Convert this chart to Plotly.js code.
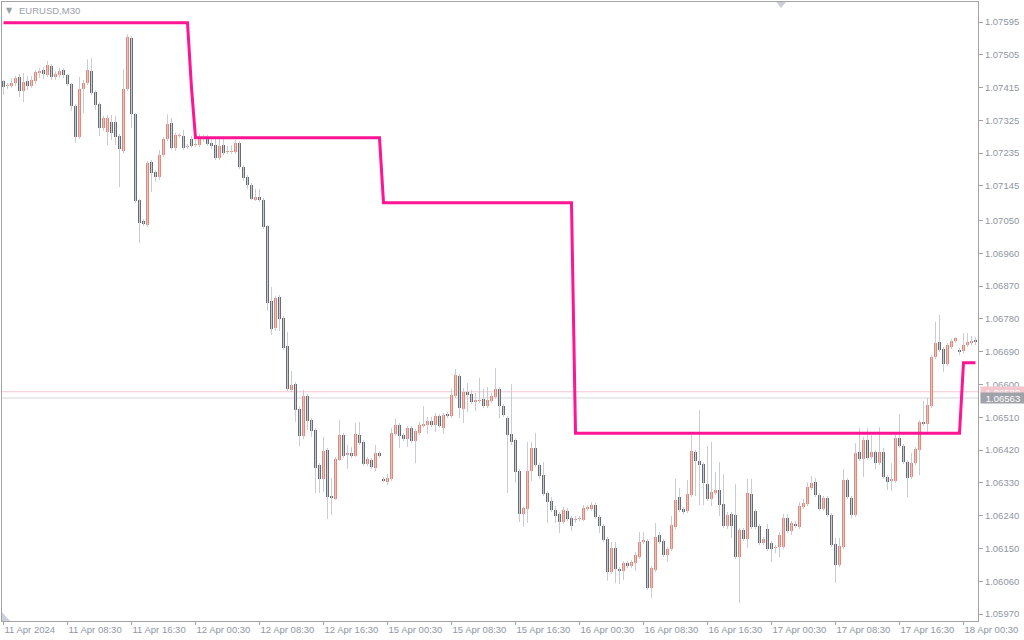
<!DOCTYPE html>
<html>
<head>
<meta charset="utf-8">
<script src="https://cdn.plot.ly/plotly-3.0.1.min.js"></script>
<style>
  html, body { margin: 0; padding: 0; background: #ffffff; }
  #chart { width: 1024px; height: 640px; }
</style>
</head>
<body>
<div id="chart"></div>
<script>
// EURUSD M30 candles, bar index 0 = 11 Apr 2024 00:30
const open = [
  1.07433,1.07419,1.07419,1.07428,1.07444,1.07406,1.07433,1.07419,1.07433,1.07455,
  1.07463,1.07450,1.07474,1.07444,1.07450,1.07463,1.07450,1.07425,1.07364,1.07279,
  1.07411,1.07428,1.07460,1.07403,1.07370,1.07304,1.07293,1.07321,1.07321,1.07282,
  1.07241,1.07411,1.07551,1.07342,1.07106,1.07049,1.07038,1.07211,1.07183,1.07170,
  1.07230,1.07274,1.07318,1.07249,1.07282,1.07282,1.07252,1.07274,1.07257,1.07257,
  1.07279,1.07277,1.07263,1.07257,1.07222,1.07257,1.07238,1.07238,1.07238,1.07263,
  1.07197,1.07170,1.07148,1.07106,1.07115,1.07106,1.07035,1.06829,1.06755,1.06840,
  1.06782,1.06706,1.06585,1.06601,1.06533,1.06459,1.06568,1.06502,1.06475,1.06379,
  1.06341,1.06420,1.06294,1.06286,1.06393,1.06461,1.06406,1.06412,1.06404,1.06461,
  1.06442,1.06382,1.06393,1.06371,1.06412,1.06341,1.06332,1.06341,1.06464,1.06489,
  1.06461,1.06450,1.06481,1.06445,1.06467,1.06486,1.06489,1.06500,1.06489,1.06513,
  1.06481,1.06519,1.06513,1.06568,1.06623,1.06533,1.06579,1.06574,1.06552,1.06555,
  1.06560,1.06541,1.06555,1.06566,1.06588,1.06541,1.06508,1.06464,1.06448,1.06362,
  1.06244,1.06258,1.06362,1.06426,1.06379,1.06351,1.06302,1.06280,1.06255,1.06244,
  1.06222,1.06253,1.06233,1.06228,1.06231,1.06228,1.06258,1.06258,1.06269,1.06236,
  1.06212,1.06176,1.06085,1.06151,1.06093,1.06088,1.06110,1.06102,1.06110,1.06126,
  1.06168,1.06170,1.06041,1.06091,1.06187,1.06170,1.06132,1.06148,1.06209,1.06291,
  1.06258,1.06253,1.06297,1.06415,1.06390,1.06382,1.06327,1.06286,1.06302,1.06310,
  1.06272,1.06212,1.06244,1.06242,1.06126,1.06201,1.06176,1.06299,1.06253,1.06212,
  1.06165,1.06203,1.06165,1.06151,1.06154,1.06154,1.06233,1.06198,1.06217,1.06209,
  1.06264,1.06272,1.06316,1.06332,1.06297,1.06258,1.06288,1.06242,1.06162,1.06104,
  1.06154,1.06338,1.06288,1.06242,1.06415,1.06395,1.06448,1.06401,1.06415,1.06384,
  1.06415,1.06346,1.06335,1.06335,1.06453,1.06431,1.06387,1.06346,1.06384,1.06420,
  1.06497,1.06492,1.06541,1.06675,1.06717,1.06697,1.06656,1.06703,1.06719,1.06695,
  1.06692,1.06708,1.06714,1.06722
];
const high = [
  1.07436,1.07428,1.07441,1.07447,1.07452,1.07455,1.07447,1.07447,1.07463,1.07469,
  1.07471,1.07488,1.07480,1.07460,1.07469,1.07469,1.07452,1.07428,1.07370,1.07444,
  1.07436,1.07493,1.07496,1.07408,1.07375,1.07337,1.07340,1.07340,1.07337,1.07288,
  1.07466,1.07562,1.07557,1.07345,1.07109,1.07054,1.07213,1.07216,1.07189,1.07244,
  1.07279,1.07342,1.07331,1.07290,1.07290,1.07299,1.07260,1.07282,1.07271,1.07288,
  1.07285,1.07285,1.07277,1.07274,1.07274,1.07274,1.07255,1.07257,1.07271,1.07268,
  1.07202,1.07175,1.07153,1.07137,1.07137,1.07112,1.07038,1.06868,1.06843,1.06846,
  1.06788,1.06744,1.06637,1.06607,1.06538,1.06585,1.06574,1.06508,1.06481,1.06384,
  1.06456,1.06426,1.06343,1.06401,1.06502,1.06467,1.06434,1.06428,1.06494,1.06497,
  1.06448,1.06401,1.06398,1.06434,1.06417,1.06346,1.06354,1.06481,1.06505,1.06494,
  1.06467,1.06486,1.06486,1.06478,1.06497,1.06541,1.06511,1.06511,1.06522,1.06519,
  1.06522,1.06524,1.06588,1.06642,1.06629,1.06590,1.06604,1.06585,1.06577,1.06618,
  1.06588,1.06593,1.06577,1.06645,1.06593,1.06546,1.06513,1.06601,1.06453,1.06368,
  1.06266,1.06442,1.06442,1.06467,1.06384,1.06387,1.06308,1.06291,1.06266,1.06250,
  1.06264,1.06261,1.06239,1.06239,1.06239,1.06269,1.06269,1.06277,1.06275,1.06242,
  1.06217,1.06181,1.06168,1.06168,1.06099,1.06115,1.06115,1.06118,1.06140,1.06195,
  1.06195,1.06176,1.06102,1.06220,1.06195,1.06176,1.06154,1.06239,1.06341,1.06316,
  1.06264,1.06338,1.06461,1.06420,1.06530,1.06387,1.06431,1.06442,1.06360,1.06387,
  1.06354,1.06250,1.06250,1.06327,1.06206,1.06206,1.06341,1.06341,1.06258,1.06217,
  1.06181,1.06217,1.06170,1.06159,1.06195,1.06244,1.06244,1.06225,1.06225,1.06277,
  1.06286,1.06332,1.06349,1.06343,1.06302,1.06294,1.06294,1.06247,1.06179,1.06179,
  1.06368,1.06343,1.06294,1.06439,1.06481,1.06456,1.06481,1.06461,1.06420,1.06483,
  1.06426,1.06351,1.06384,1.06467,1.06519,1.06437,1.06393,1.06412,1.06428,1.06502,
  1.06555,1.06563,1.06681,1.06772,1.06791,1.06703,1.06714,1.06725,1.06730,1.06700,
  1.06741,1.06741,1.06733,1.06730
];
const low = [
  1.07395,1.07411,1.07414,1.07419,1.07389,1.07375,1.07408,1.07414,1.07425,1.07441,
  1.07439,1.07444,1.07436,1.07436,1.07441,1.07441,1.07419,1.07351,1.07263,1.07274,
  1.07345,1.07422,1.07395,1.07353,1.07282,1.07296,1.07257,1.07271,1.07257,1.07142,
  1.07235,1.07406,1.07304,1.07098,1.06988,1.07035,1.07032,1.07128,1.07156,1.07161,
  1.07224,1.07268,1.07244,1.07241,1.07277,1.07244,1.07246,1.07249,1.07252,1.07252,
  1.07266,1.07255,1.07246,1.07216,1.07216,1.07230,1.07233,1.07233,1.07233,1.07191,
  1.07159,1.07137,1.07106,1.07104,1.07101,1.07027,1.06802,1.06736,1.06747,1.06747,
  1.06695,1.06582,1.06579,1.06497,1.06431,1.06450,1.06475,1.06456,1.06302,1.06302,
  1.06305,1.06231,1.06242,1.06283,1.06390,1.06398,1.06368,1.06398,1.06401,1.06434,
  1.06376,1.06376,1.06368,1.06362,1.06398,1.06332,1.06324,1.06335,1.06459,1.06426,
  1.06445,1.06428,1.06439,1.06384,1.06461,1.06481,1.06464,1.06483,1.06470,1.06481,
  1.06464,1.06508,1.06508,1.06563,1.06508,1.06494,1.06524,1.06546,1.06527,1.06549,
  1.06535,1.06535,1.06549,1.06560,1.06508,1.06511,1.06302,1.06434,1.06330,1.06222,
  1.06209,1.06220,1.06335,1.06373,1.06341,1.06294,1.06220,1.06250,1.06220,1.06192,
  1.06217,1.06225,1.06198,1.06220,1.06225,1.06225,1.06253,1.06253,1.06231,1.06192,
  1.06168,1.06061,1.06080,1.06055,1.06052,1.06063,1.06096,1.06096,1.06088,1.06121,
  1.06162,1.06036,1.06014,1.06085,1.06162,1.06126,1.06113,1.06143,1.06203,1.06250,
  1.06244,1.06247,1.06291,1.06294,1.06269,1.06269,1.06280,1.06266,1.06297,1.06239,
  1.06206,1.06203,1.06179,1.06121,1.06000,1.06170,1.06151,1.06203,1.06203,1.06159,
  1.06159,1.06143,1.06113,1.06137,1.06126,1.06148,1.06192,1.06187,1.06206,1.06203,
  1.06258,1.06266,1.06310,1.06291,1.06253,1.06253,1.06236,1.06154,1.06055,1.06099,
  1.06148,1.06286,1.06233,1.06236,1.06390,1.06346,1.06393,1.06395,1.06368,1.06379,
  1.06341,1.06310,1.06308,1.06330,1.06426,1.06382,1.06291,1.06341,1.06379,1.06351,
  1.06486,1.06470,1.06535,1.06670,1.06689,1.06634,1.06651,1.06697,1.06714,1.06681,
  1.06686,1.06703,1.06708,1.06708
];
const close = [
  1.07417,1.07422,1.07428,1.07441,1.07406,1.07430,1.07419,1.07436,1.07458,1.07460,
  1.07452,1.07477,1.07444,1.07452,1.07460,1.07450,1.07425,1.07364,1.07279,1.07411,
  1.07428,1.07463,1.07400,1.07367,1.07304,1.07331,1.07331,1.07290,1.07279,1.07246,
  1.07411,1.07554,1.07342,1.07104,1.07043,1.07041,1.07208,1.07181,1.07170,1.07230,
  1.07274,1.07315,1.07249,1.07285,1.07285,1.07249,1.07255,1.07255,1.07260,1.07279,
  1.07274,1.07260,1.07255,1.07222,1.07255,1.07235,1.07241,1.07241,1.07263,1.07197,
  1.07167,1.07148,1.07109,1.07115,1.07106,1.07032,1.06824,1.06752,1.06837,1.06780,
  1.06700,1.06588,1.06599,1.06530,1.06459,1.06568,1.06500,1.06472,1.06371,1.06341,
  1.06417,1.06291,1.06288,1.06395,1.06461,1.06404,1.06412,1.06404,1.06464,1.06439,
  1.06382,1.06395,1.06373,1.06412,1.06404,1.06335,1.06343,1.06467,1.06489,1.06459,
  1.06450,1.06481,1.06445,1.06472,1.06489,1.06492,1.06500,1.06489,1.06513,1.06486,
  1.06516,1.06513,1.06571,1.06626,1.06535,1.06579,1.06571,1.06552,1.06557,1.06557,
  1.06541,1.06557,1.06568,1.06588,1.06541,1.06516,1.06461,1.06442,1.06360,1.06244,
  1.06261,1.06362,1.06426,1.06379,1.06349,1.06299,1.06277,1.06255,1.06239,1.06222,
  1.06255,1.06231,1.06212,1.06231,1.06233,1.06261,1.06264,1.06269,1.06236,1.06212,
  1.06173,1.06085,1.06151,1.06093,1.06088,1.06110,1.06102,1.06113,1.06132,1.06168,
  1.06173,1.06041,1.06096,1.06181,1.06168,1.06132,1.06148,1.06214,1.06283,1.06255,
  1.06250,1.06299,1.06417,1.06390,1.06379,1.06330,1.06286,1.06305,1.06310,1.06269,
  1.06212,1.06242,1.06212,1.06126,1.06201,1.06176,1.06302,1.06209,1.06209,1.06165,
  1.06176,1.06148,1.06148,1.06154,1.06187,1.06233,1.06198,1.06220,1.06212,1.06266,
  1.06275,1.06319,1.06330,1.06297,1.06258,1.06288,1.06242,1.06159,1.06104,1.06157,
  1.06338,1.06291,1.06242,1.06412,1.06395,1.06448,1.06398,1.06415,1.06384,1.06415,
  1.06346,1.06332,1.06341,1.06453,1.06431,1.06387,1.06343,1.06384,1.06423,1.06497,
  1.06492,1.06544,1.06675,1.06714,1.06695,1.06656,1.06708,1.06719,1.06728,1.06689,
  1.06708,1.06717,1.06719,1.06717
];

// Daily level line: vertices (bar index, price)
const levelBars   = [0, 46, 47, 48, 94, 95, 142, 143, 239, 240, 243];
const levelPrices = [1.07593, 1.07593, 1.07414, 1.07277, 1.07277, 1.07099, 1.07099, 1.06466, 1.06466, 1.06660, 1.06660];

// Price lines on the right scale
const bidPrice = 1.06563;
const askPrice = 1.06580;

// Time axis labels, one every 16 bars
const timeTickBars = [0, 16, 32, 48, 64, 80, 96, 112, 128, 144, 160, 176, 192, 208, 224, 240];
const timeTickText = [
  "11 Apr 2024", "11 Apr 08:30", "11 Apr 16:30", "12 Apr 00:30", "12 Apr 08:30",
  "12 Apr 16:30", "15 Apr 00:30", "15 Apr 08:30", "15 Apr 16:30", "16 Apr 00:30",
  "16 Apr 08:30", "16 Apr 16:30", "17 Apr 00:30", "17 Apr 08:30", "17 Apr 16:30",
  "18 Apr 00:30"
];

// Price axis labels
const priceTicks = [1.07595, 1.07505, 1.07415, 1.07325, 1.07235, 1.07145, 1.07050, 1.06960,
  1.06870, 1.06780, 1.06690, 1.06600, 1.06510, 1.06420, 1.06330, 1.06240, 1.06150, 1.06060, 1.05970];

const BULL = '#ef8471';
const BEAR = '#676c75';
const WICK = '#c9ccd3';
const TEXT = '#8f96a3';
const FRAME = '#a3a3a3';
const FONT = 'Liberation Sans, Arial, sans-serif';

// wicks: one vertical segment per bar
const wickX = [], wickY = [];
// bodies split by direction
const upX = [], upBase = [], upH = [];
const dnX = [], dnBase = [], dnH = [];
const MIN_BODY = 0.00003;
for (let i = 0; i < open.length; i++) {
  wickX.push(i, i, null);
  wickY.push(low[i], high[i], null);
  const lo = Math.min(open[i], close[i]);
  const h = Math.max(Math.abs(close[i] - open[i]), MIN_BODY);
  if (close[i] >= open[i]) { upX.push(i); upBase.push(lo); upH.push(h); }
  else { dnX.push(i); dnBase.push(lo); dnH.push(h); }
}

const traces = [
  { type: 'scatter', mode: 'lines', x: wickX, y: wickY,
    line: { color: WICK, width: 1 }, hoverinfo: 'skip', showlegend: false },
  { type: 'bar', x: dnX, y: dnH, base: dnBase, width: 0.75,
    marker: { color: BEAR, line: { width: 0 } }, hoverinfo: 'skip', showlegend: false },
  { type: 'bar', x: upX, y: upH, base: upBase, width: 0.75,
    marker: { color: BULL, line: { width: 0 } }, hoverinfo: 'skip', showlegend: false },
  { type: 'scatter', mode: 'lines', x: levelBars, y: levelPrices,
    line: { color: '#ff1493', width: 3 }, hoverinfo: 'skip', showlegend: false }
];

const layout = {
  width: 1024, height: 640,
  margin: { l: 2, r: 46, t: 2, b: 19, pad: 0 },
  paper_bgcolor: '#ffffff', plot_bgcolor: '#ffffff',
  barmode: 'overlay', bargap: 0,
  showlegend: false,
  font: { family: FONT, size: 9.5, color: TEXT },
  xaxis: {
    range: [-0.375, 243.625], fixedrange: true,
    showgrid: false, zeroline: false,
    showline: true, mirror: true, linecolor: FRAME, linewidth: 1,
    ticks: 'outside', ticklen: 3, tickcolor: FRAME, tickwidth: 1,
    tickvals: timeTickBars, ticktext: timeTickText,
    ticklabelposition: 'outside right',
    tickfont: { family: FONT, size: 9.5, color: TEXT }
  },
  yaxis: {
    range: [1.059508, 1.076499], fixedrange: true, side: 'right',
    showgrid: false, zeroline: false,
    showline: true, mirror: true, linecolor: FRAME, linewidth: 1,
    ticks: 'outside', ticklen: 4, tickcolor: FRAME, tickwidth: 1,
    tickvals: priceTicks, tickformat: '.5f',
    tickfont: { family: FONT, size: 9.5, color: TEXT }
  },
  shapes: [
    { type: 'line', xref: 'paper', x0: 0, x1: 1, yref: 'y', y0: askPrice, y1: askPrice,
      line: { color: '#f2c6ce', width: 1 }, layer: 'below' },
    { type: 'line', xref: 'paper', x0: 0, x1: 1, yref: 'y', y0: bidPrice, y1: bidPrice,
      line: { color: '#d2d5dc', width: 1 }, layer: 'below' },
    // chart shift marker at the top edge
    { type: 'path', xref: 'x', yref: 'paper',
      path: 'M 193.2 1 L 195.6 1 L 194.4 0.9905 Z',
      fillcolor: '#c9cdd4', line: { width: 0 } },
    // scale-fix marker in the lower left corner
    { type: 'path', xref: 'paper', yref: 'paper',
      path: 'M 0 0.0145 L 0 0 L 0.0082 0 Z',
      fillcolor: '#ccd0da', line: { width: 0 } }
  ],
  annotations: [
    { xref: 'paper', yref: 'paper', x: 0.0077, y: 0.986, xanchor: 'center', yanchor: 'middle',
      text: '▼', showarrow: false, font: { family: 'DejaVu Sans', size: 8, color: '#9aa0a8' } },
    { xref: 'paper', yref: 'paper', x: 0.0154, y: 0.987, xanchor: 'left', yanchor: 'middle',
      text: 'EURUSD,M30', showarrow: false, font: { family: FONT, size: 9.5, color: '#9aa0a8' } },
    { xref: 'paper', yref: 'y', x: 1, xshift: 2, y: askPrice, xanchor: 'left', yanchor: 'middle',
      text: askPrice.toFixed(5), showarrow: false, width: 44, height: 10, borderpad: 0,
      bgcolor: '#f4c6ce', font: { family: FONT, size: 9.5, color: '#ffffff' } },
    { xref: 'paper', yref: 'y', x: 1, xshift: 2, y: bidPrice, xanchor: 'left', yanchor: 'middle',
      text: bidPrice.toFixed(5), showarrow: false, width: 44, height: 10, borderpad: 0,
      bgcolor: '#9fa2a8', font: { family: FONT, size: 9.5, color: '#ffffff' } }
  ]
};

Plotly.newPlot('chart', traces, layout, { staticPlot: true, displayModeBar: false });
</script>
</body>
</html>
